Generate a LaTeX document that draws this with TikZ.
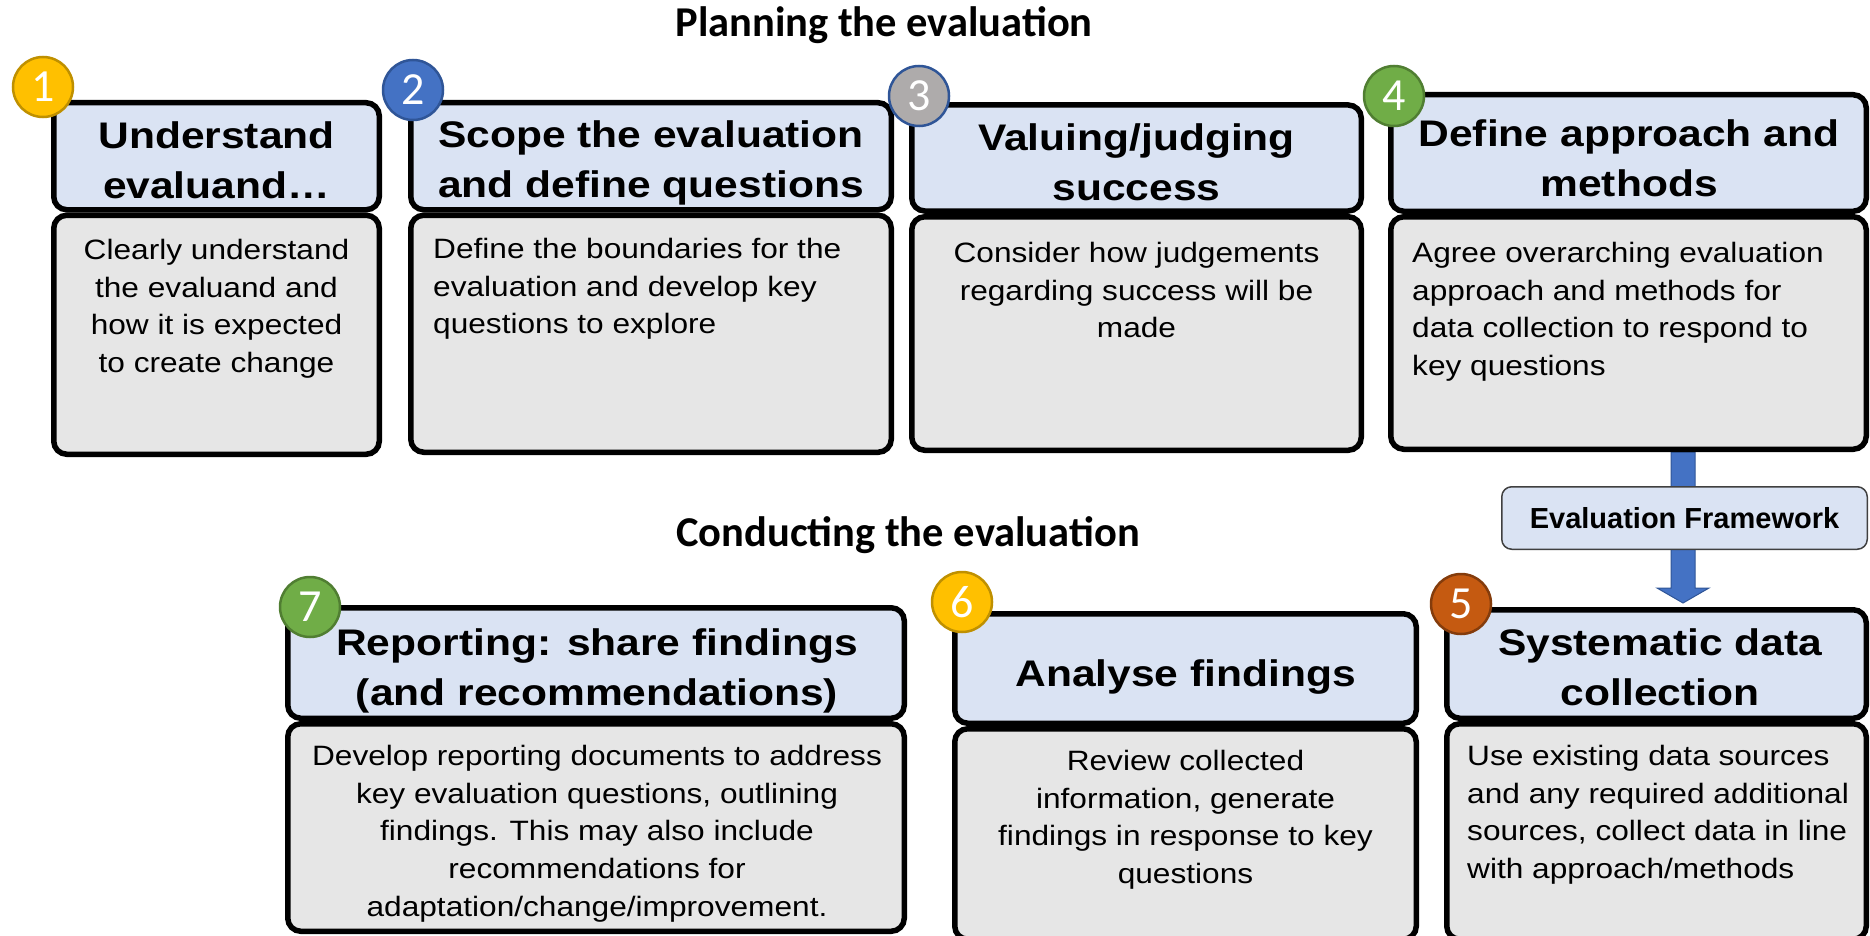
\documentclass[tikz,border=0pt]{standalone}
\usepackage{fontspec}
\setmainfont{Liberation Sans}
\newfontfamily\arialx[FakeStretch=1.13]{Liberation Sans}
\newfontfamily\arialh[FakeStretch=1.15]{Liberation Sans}
\newfontfamily\calib{Carlito}
\newcommand\hstrut{\rule{0pt}{35pt}}
\newcommand\bstrut{\rule{0pt}{26.5pt}}
\definecolor{hdrblue}{HTML}{DAE3F3}
\definecolor{bodygray}{HTML}{E6E6E6}
\definecolor{cgold}{HTML}{FFC000}\definecolor{cgoldb}{HTML}{BF9000}
\definecolor{cblue}{HTML}{4472C4}\definecolor{cblueb}{HTML}{2F5597}
\definecolor{cgray}{HTML}{AEABAB}
\definecolor{cgreen}{HTML}{70AD47}\definecolor{cgreenb}{HTML}{507E32}
\definecolor{corange}{HTML}{C55A11}\definecolor{corangeb}{HTML}{843C0C}
\definecolor{fwborder}{HTML}{404040}
\begin{document}
\begin{tikzpicture}[x=1pt,y=-1pt,
  panel/.style={draw=black, line width=5.5pt, rounded corners=13pt, inner sep=0pt, outer sep=0pt},
  hdrbox/.style={panel, fill=hdrblue},
  bodybox/.style={panel, fill=bodygray},
  hdrtext/.style={anchor=north, inner sep=0pt, align=center, font=\arialh\bfseries\fontsize{37}{50}\selectfont},
  bodytext/.style={anchor=north, inner sep=0pt, align=center, font=\arialx\fontsize{28}{37.8}\selectfont},
  bodyleft/.style={bodytext, anchor=north west, align=left},
  numc/.style={circle, minimum size=60pt, inner sep=0pt, line width=2.5pt, text=white, font=\calib\fontsize{46}{46}\selectfont},
  titletext/.style={anchor=base, inner sep=0pt, font=\calib\bfseries\fontsize{42.5}{50}\selectfont},
  fwbox/.style={draw=fwborder, line width=1.5pt, rounded corners=10pt, fill=hdrblue, inner sep=0pt, minimum width=365.5pt, minimum height=62.5pt, font=\bfseries\fontsize{29}{34}\selectfont},
  blockarrow/.style={fill=cblue, draw=cblueb, line width=1pt}
]
\useasboundingbox (0,0) rectangle (1870,936);

% titles
\node[titletext] (t1) at (884,37) {Planning the evaluation};
\node[titletext] (t2) at (908,546) {Conducting the evaluation};

% arrow behind the framework box
\coordinate (atop) at (1683,452);
\coordinate (atip) at (1683,603);
\fill[blockarrow] (atop) ++(-12,0) -- ++(24,0) -- ++(0,136) -- ++(14,0) -- (atip) -- ++(-26,-15) -- ++(14,0) -- cycle;
\node[fwbox] (fw) at (1684.5,518) {Evaluation Framework};

% box 1
\node[hdrbox, minimum width=325.5pt, minimum height=107pt] (h1) at (216.5,156.25) {};
\node[bodybox, minimum width=325.5pt, minimum height=239pt] (b1) at (216.5,334.75) {};
\node[hdrtext] (h1t) at (216.5,113) {\hstrut Understand\\evaluand…};
\node[bodytext] (b1t) at (216.5,232.5) {\bstrut Clearly understand\\the evaluand and\\how it is expected\\to create change};

% box 2
\node[hdrbox, minimum width=480.5pt, minimum height=107pt] (h2) at (651,156.25) {};
\node[bodybox, minimum width=480.5pt, minimum height=237pt] (b2) at (651,333.75) {};
\node[hdrtext] (h2t) at (651,112) {\hstrut Scope the evaluation\\and define questions};
\node[bodyleft] (b2t) at (433,231.5) {\bstrut Define the boundaries for the\\evaluation and develop key\\questions to explore};

% box 3
\node[hdrbox, minimum width=449.5pt, minimum height=106pt] (h3) at (1136.5,158) {};
\node[bodybox, minimum width=449.5pt, minimum height=233.5pt] (b3) at (1136.5,333.5) {};
\node[hdrtext] (h3t) at (1136.5,115) {\hstrut Valuing/judging\\success};
\node[bodytext] (b3t) at (1136.5,235.5) {\bstrut Consider how judgements\\regarding success will be\\made};

% box 4
\node[hdrbox, minimum width=475.5pt, minimum height=116.5pt] (h4) at (1628.5,153) {};
\node[bodybox, minimum width=475.5pt, minimum height=232.5pt] (b4) at (1628.5,333) {};
\node[hdrtext] (h4t) at (1629,111) {\hstrut Define approach and\\methods};
\node[bodyleft] (b4t) at (1412,235.5) {\bstrut Agree overarching evaluation\\approach and methods for\\data collection to respond to\\key questions};

% box 7
\node[hdrbox, minimum width=616.5pt, minimum height=110.5pt] (h7) at (596,663) {};
\node[bodybox, minimum width=616.5pt, minimum height=207.5pt] (b7) at (596,827.5) {};
\node[hdrtext] (h7t) at (597,620) {\hstrut Reporting: share findings\\(and recommendations)};
\node[bodytext] (b7t) at (597,738.5) {\bstrut Develop reporting documents to address\\key evaluation questions, outlining\\findings. This may also include\\recommendations for\\adaptation/change/improvement.};

% box 6
\node[hdrbox, minimum width=461.5pt, minimum height=109.5pt] (h6) at (1185.5,668.5) {};
\node[bodybox, minimum width=461.5pt, minimum height=210.5pt] (b6) at (1185.5,834) {};
\node[hdrtext] (h6t) at (1185.5,651) {\hstrut Analyse findings};
\node[bodytext] (b6t) at (1185.5,743.5) {\bstrut Review collected\\information, generate\\findings in response to key\\questions};

% box 5
\node[hdrbox, minimum width=419.5pt, minimum height=108.5pt] (h5) at (1656.5,664) {};
\node[bodybox, minimum width=419.5pt, minimum height=215.5pt] (b5) at (1656.5,831.5) {};
\node[hdrtext] (h5t) at (1660,620) {\hstrut Systematic data\\collection};
\node[bodyleft] (b5t) at (1467,738.5) {\bstrut Use existing data sources\\and any required additional\\sources, collect data in line\\with approach/methods};

% number circles
\node[numc, fill=cgold, draw=cgoldb] (n1) at (43,87) {1};
\node[numc, fill=cblue, draw=cblueb] (n2) at (413,90) {2};
\node[numc, fill=cgray, draw=cblueb] (n3) at (919,96) {3};
\node[numc, fill=cgreen, draw=cgreenb] (n4) at (1394,96) {4};
\node[numc, fill=corange, draw=corangeb] (n5) at (1461,604) {5};
\node[numc, fill=cgold, draw=cgoldb] (n6) at (962,602) {6};
\node[numc, fill=cgreen, draw=cgreenb] (n7) at (310,607) {7};
\end{tikzpicture}
\end{document}
